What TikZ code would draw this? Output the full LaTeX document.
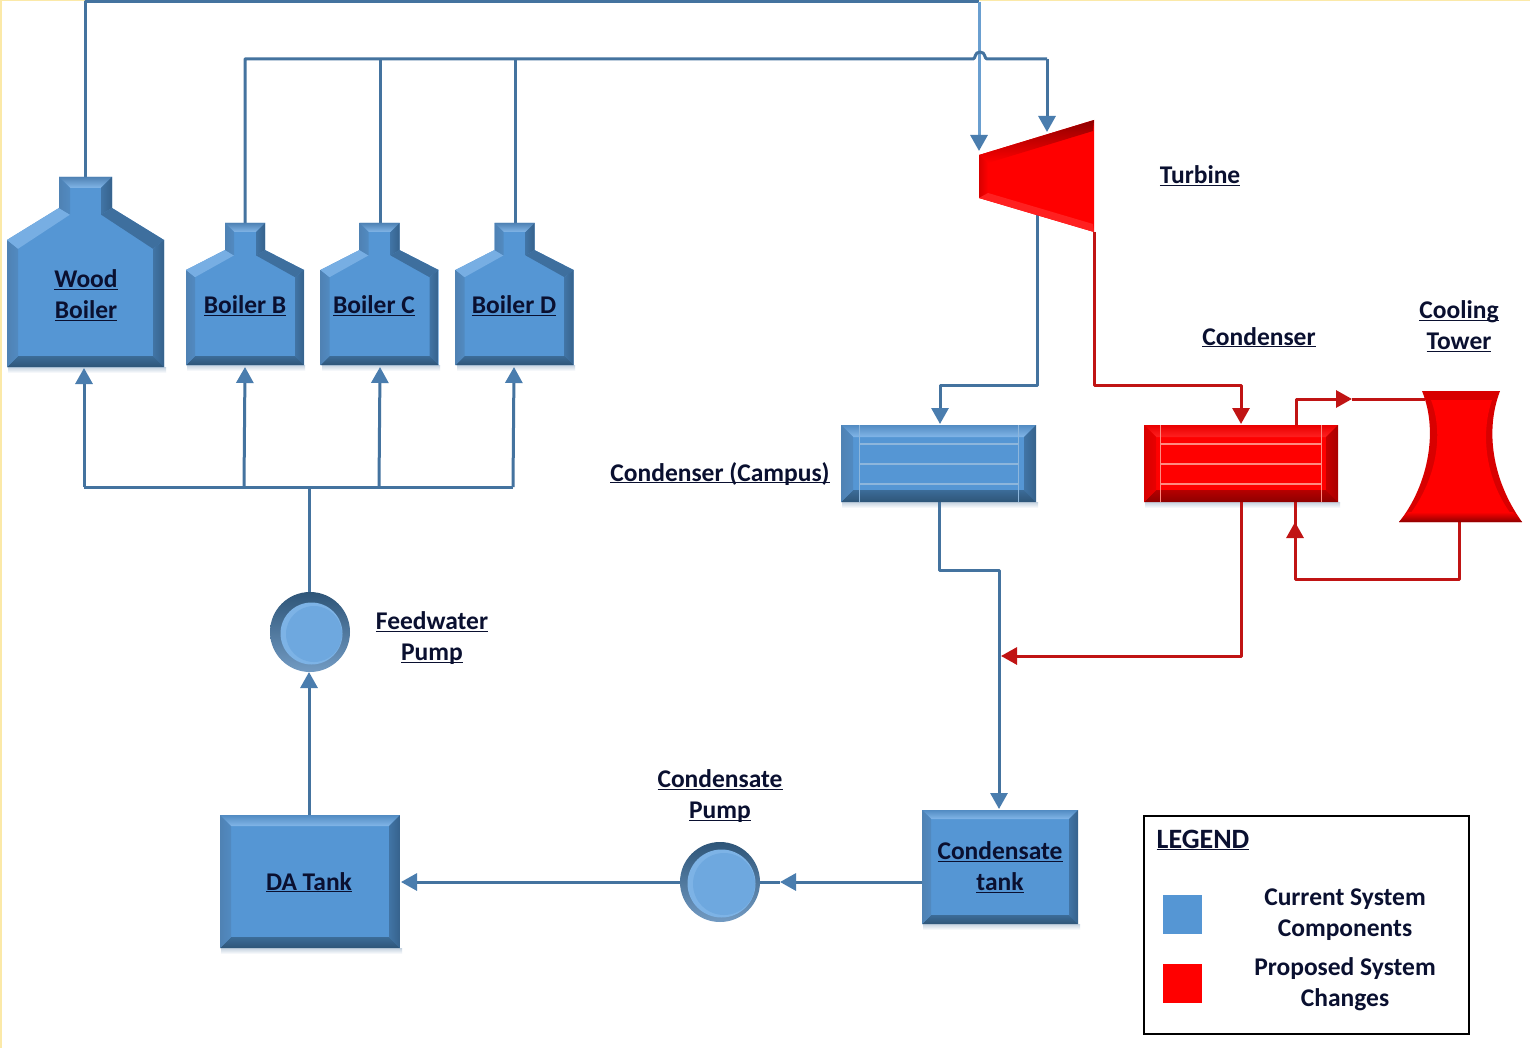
\documentclass[tikz,border=0pt]{standalone}
\usepackage{fontspec}
\setmainfont{Carlito}
\usetikzlibrary{arrows.meta,fit}
\definecolor{bM}{HTML}{5596D4}
\definecolor{bT}{HTML}{82B6E8}
\definecolor{bL}{HTML}{4F82B4}
\definecolor{bR}{HTML}{36628C}
\definecolor{bB}{HTML}{2E5578}
\definecolor{rM}{HTML}{FF0000}
\definecolor{rT}{HTML}{FF2020}
\definecolor{rL}{HTML}{D80000}
\definecolor{rR}{HTML}{A80000}
\definecolor{rB}{HTML}{8E0000}
\definecolor{lineB}{HTML}{44739F}
\definecolor{lineL}{HTML}{6A9FD0}
\definecolor{lineR}{HTML}{C01414}
\definecolor{inkT}{HTML}{0A1030}
\definecolor{shadowC}{HTML}{C4D2E0}
\definecolor{edgeY}{HTML}{FBE9A8}
\definecolor{tubeB}{HTML}{8DB6DC}
\definecolor{tubeR}{HTML}{FF8A80}
\definecolor{headC}{HTML}{4A7DAE}
\tikzset{
  lab/.style={font=\fontsize{25.5}{31}\selectfont\bfseries,text=inkT,align=center,inner sep=0pt,yshift=-9pt},
  plainlab/.style={font=\fontsize{25.5}{31}\selectfont\bfseries,text=inkT,align=center,inner sep=0pt},
  anch/.style={inner sep=0pt,outer sep=0pt},
  bluewire/.style={draw=lineB,line width=3pt,line join=round},
  lightwire/.style={draw=lineL,line width=3pt,line join=round},
  redwire/.style={draw=lineR,line width=3pt,line join=round},
  headB/.style={-{Triangle[length=16pt,width=17pt,fill=headC,color=headC]}},
  headR/.style={-{Triangle[length=16pt,width=17pt,fill=lineR,color=lineR]}},
}
\newcommand{\ulab}[1]{\underline{\smash{#1}}}
\newcommand{\shadowbar}[3]{\shade[top color=shadowC,bottom color=white] (#1,#3) rectangle (#2,#3+6);}
% name x1 y1 x2 y2 bevel palette
\newcommand{\bevelbox}[7]{%
  \fill[#7M] (#2,#3) rectangle (#4,#5);
  \shade[top color=#7L!55!#7M,bottom color=#7T] (#2,#3) -- (#4,#3) -- (#4-#6,#3+#6) -- (#2+#6,#3+#6) -- cycle;
  \shade[left color=#7R!65!#7M,right color=#7R] (#4,#3) -- (#4,#5) -- (#4-#6,#5-#6) -- (#4-#6,#3+#6) -- cycle;
  \shade[top color=#7B!65!#7M,bottom color=#7B] (#2,#5) -- (#4,#5) -- (#4-#6,#5-#6) -- (#2+#6,#5-#6) -- cycle;
  \shade[left color=#7L,right color=#7L!60!#7M] (#2,#3) -- (#2,#5) -- (#2+#6,#5-#6) -- (#2+#6,#3+#6) -- cycle;
  \node[anch,fit={(#2,#3)(#4,#5)}] (#1) {};
}
% name cx halfw top neckhw neckbottom shoulder bottom bevel
\newcommand{\boiler}[9]{%
  \begin{scope}[shift={(#2,0)}]
  \fill[bM] ({-#5},#4) -- (#5,#4) -- (#5,#6) -- (#3,#7) -- (#3,#8) -- ({-#3},#8) -- ({-#3},#7) -- ({-#5},#6) -- cycle;
  \shade[top color=bL,bottom color=bT] ({-#5},#4) -- (#5,#4) -- ({#5-#9},#4+#9) -- ({-#5+#9},#4+#9) -- cycle;
  \shade[left color=bR!65!bM,right color=bR] (#5,#4) -- (#5,#6) -- ({#5-#9},#6+.6*#9) -- ({#5-#9},#4+#9) -- cycle;
  \fill[bR!75!bM] (#5,#6) -- (#3,#7) -- ({#3-#9},#7+.8*#9) -- ({#5-#9},#6+.6*#9) -- cycle;
  \shade[left color=bR!65!bM,right color=bR] (#3,#7) -- (#3,#8) -- ({#3-#9},#8-#9) -- ({#3-#9},#7+.8*#9) -- cycle;
  \shade[top color=bB!65!bM,bottom color=bB] (#3,#8) -- ({-#3},#8) -- ({-#3+#9},#8-#9) -- ({#3-#9},#8-#9) -- cycle;
  \shade[left color=bL,right color=bL!60!bM] ({-#3},#8) -- ({-#3},#7) -- ({-#3+#9},#7+.8*#9) -- ({-#3+#9},#8-#9) -- cycle;
  \fill[bT!75!bM] ({-#3},#7) -- ({-#5},#6) -- ({-#5+#9},#6+.6*#9) -- ({-#3+#9},#7+.8*#9) -- cycle;
  \shade[left color=bL,right color=bL!60!bM] ({-#5},#6) -- ({-#5},#4) -- ({-#5+#9},#4+#9) -- ({-#5+#9},#6+.6*#9) -- cycle;
  \node[anch,fit={({-#3},#4)(#3,#8)}] (#1) {};
  \end{scope}
}
% name cx cy inner-radius
\newcommand{\pump}[4]{%
  \shade[top color=bB,bottom color=bL!80!white] (#2,#3) circle (40);
  \node[anch,circle,minimum size=78pt] (#1) at (#2,#3) {};
  \fill[bT!90!bM] (#2+1.5,#3+1.5) circle (#4);
  \fill[bT!55!bM] (#2+4,#3+2) circle ({#4-3});
}
% x1 x2 y1 y2 y3 colour
\newcommand{\tubes}[6]{%
  \foreach \yy in {#3,#4,#5} \draw[line width=1.6pt,#6] (#1,\yy) -- (#2,\yy);
  \draw[line width=1pt,#6] (#1,#3-19) -- (#1,#5+18);
  \draw[line width=1pt,#6] (#2,#3-19) -- (#2,#5+18);
}
\begin{document}
\begin{tikzpicture}[x=1pt,y=-1pt]
\useasboundingbox (0,0) rectangle (1530,1048);
\fill[white] (0,0) rectangle (1530,1048);
\fill[edgeY] (0,0) rectangle (1530,1.5);
\fill[edgeY] (0,0) rectangle (1.5,1048);

% soft shadows under the shapes
\shadowbar{8}{166}{367}
\shadowbar{187}{305}{365}
\shadowbar{322}{440}{365}
\shadowbar{457}{575}{365}
\shadowbar{842}{1038}{502}
\shadowbar{1145}{1340}{502}
\shadowbar{221}{402}{948}
\shadowbar{923}{1080}{924}

% coordinates for free ends
\coordinate (topRun) at (979,2);
\coordinate (steamRun) at (1047,59);
\coordinate (inletA) at (979,151);
\coordinate (inletB) at (1047,132);
\coordinate (hopA) at (973,59);
\coordinate (hopB) at (987,59);
\coordinate (busL) at (84,487);
\coordinate (busR) at (513,487);
\coordinate (busM) at (309,487);
\coordinate (turbOut) at (1037,205);
\coordinate (turbOutR) at (1094,232);
\coordinate (campIn) at (940,424);
\coordinate (campOut) at (939,500);
\coordinate (condIn) at (1241,424);
\coordinate (condOut) at (1241,500);
\coordinate (condHotOut) at (1296,427);
\coordinate (condColdIn) at (1295,522);
\coordinate (condColdEnd) at (1295,500);
\coordinate (towerIn) at (1425,399);
\coordinate (towerTip) at (1352,399);
\coordinate (towerOut) at (1459,520);
\coordinate (mergePt) at (1001,656);
\coordinate (tankIn) at (999,809);
\coordinate (pumpTip) at (780,882);

% wires (behind the shapes)
\draw[bluewire] (85,177) -- (85,2) -- (topRun);
\draw[lightwire,headB] (topRun) -- (inletA);
\draw[bluewire] (245,225) -- (245,59) -- (hopA)
  .. controls (976,59) and (974,52) .. (980,52)
  .. controls (986,52) and (984,59) .. (hopB) -- (steamRun);
\draw[bluewire,headB] (steamRun) -- (inletB);
\draw[bluewire] (380,225) -- (380,59);
\draw[bluewire] (515,225) -- (515,59);
\draw[bluewire] (busL) -- (busR);
\draw[bluewire] (309,600) -- (busM);
\draw[bluewire,headB] (busL) -- (84,368);
\draw[bluewire,headB] (244,487) -- (245,367);
\draw[bluewire,headB] (379,487) -- (380,367);
\draw[bluewire,headB] (busR) -- (514,367);
\draw[bluewire,headB] (309,815) -- (309,672);
\draw[bluewire,headB] (690,882) -- (401,882);
\draw[bluewire,headB] (922,882) -- (pumpTip);
\draw[bluewire] (pumpTip) -- (750,882);
\draw[bluewire,headB] (turbOut) -- (1037,385) -- (940,385) -- (campIn);
\draw[bluewire] (campOut) -- (939,570) -- (999,570) -- (999,640);
\draw[bluewire,headB] (999,640) -- (tankIn);
\draw[redwire,headR] (turbOutR) -- (1094,385) -- (1241,385) -- (condIn);
\draw[redwire,headR] (condHotOut) -- (1296,399) -- (towerTip);
\draw[redwire] (towerTip) -- (towerIn);
\draw[redwire,headR] (towerOut) -- (1459,579) -- (1295,579) -- (condColdIn);
\draw[redwire] (1295,530) -- (condColdEnd);
\draw[redwire,headR] (condOut) -- (1241,656) -- (mergePt);

% boilers
\boiler{wood}{85.5}{78.5}{177}{26.5}{208}{240}{367}{11}
\boiler{boilB}{245}{59}{223}{20}{250}{270}{365}{9}
\boiler{boilC}{379.5}{59}{223}{20}{250}{270}{365}{9}
\boiler{boilD}{514.5}{59}{223}{20}{250}{270}{365}{9}

% turbine
\fill[rM] (979,155) -- (1094,120) -- (1094,232) -- (979,198) -- cycle;
\shade[top color=rB,bottom color=rM] (979,155) -- (1094,120) -- (1093,131) -- (988,163) -- cycle;
\shade[left color=rL,right color=rM] (979,155) -- (988,163) -- (988,193) -- (979,198) -- cycle;
\fill[rT] (979,198) -- (988,193) -- (1093,224) -- (1094,232) -- cycle;
\node[anch,fit={(979,120)(1094,232)}] (turbine) {};

% cooling tower
\fill[rL] (1422,391) -- (1500,391)
  .. controls (1485,430) and (1492,480) .. (1522,522)
  -- (1399,522)
  .. controls (1425,490) and (1440,435) .. (1422,391) -- cycle;
\fill[rM] (1431,400) -- (1492,400)
  .. controls (1480,435) and (1486,480) .. (1511,514)
  -- (1410,514)
  .. controls (1432,485) and (1446,440) .. (1431,400) -- cycle;
\shade[top color=rM,bottom color=rB] (1408,512) -- (1513,512) -- (1522,522) -- (1399,522) -- cycle;
\node[anch,fit={(1399,391)(1522,522)}] (tower) {};

% condensers
\bevelbox{campus}{841}{425}{1036}{502}{12}{b}
\tubes{859}{1018}{444}{464}{484}{tubeB}
\bevelbox{condR}{1144}{425}{1338}{502}{12}{r}
\tubes{1160}{1321}{444}{464}{484}{tubeR}

% tanks, pumps
\bevelbox{daTank}{220}{815}{400}{948}{11}{b}
\bevelbox{condTank}{922}{810}{1078}{924}{9}{b}
\pump{feedPump}{310}{632}{31}
\pump{condPump}{720}{882}{34}

% labels
\node[lab] (lWood) at (86,295) {\ulab{Wood}\\\ulab{Boiler}};
\node[lab] (lB) at (245,306) {\ulab{Boiler B}};
\node[lab] (lC) at (374,306) {\ulab{Boiler C}};
\node[lab] (lD) at (514,306) {\ulab{Boiler D}};
\node[lab] (lTurb) at (1200,176) {\ulab{Turbine}};
\node[lab] (lCond) at (1259,337) {\ulab{Condenser}};
\node[lab] (lTower) at (1459,326) {\ulab{Cooling}\\\ulab{Tower}};
\node[lab] (lCamp) at (720,473) {\ulab{Condenser (Campus)}};
\node[lab] (lFeed) at (432,637) {\ulab{Feedwater}\\\ulab{Pump}};
\node[lab] (lCP) at (720,795) {\ulab{Condensate}\\\ulab{Pump}};
\node[lab] (lDA) at (309,882) {\ulab{DA Tank}};
\node[lab] (lCT) at (1000,867) {\ulab{Condensate}\\\ulab{tank}};

% legend
\node[anch,draw=black,line width=2.5pt,fit={(1144,816)(1469,1034)}] (legend) {};
\node[lab,font=\fontsize{28}{31}\selectfont\bfseries] (lLeg) at (1203,840) {\ulab{LEGEND}};
\node[anch,fill=bM,minimum width=39pt,minimum height=39pt] (swB) at (1182.5,914.5) {};
\node[anch,fill=rM,minimum width=39pt,minimum height=39pt] (swR) at (1182.5,983.5) {};
\node[plainlab] (lCur) at (1345,915) {Current System\\Components};
\node[plainlab] (lPro) at (1345,984) {Proposed System\\Changes};
\end{tikzpicture}
\end{document}
